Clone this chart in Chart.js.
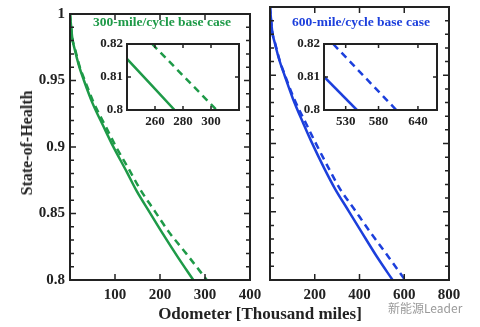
<!DOCTYPE html>
<html><head><meta charset="utf-8">
<script src="https://cdn.jsdelivr.net/npm/chart.js@4/dist/chart.umd.min.js"></script>
<style>
html,body{margin:0;padding:0;background:#fff;}
#wrap{position:relative;width:480px;height:327px;overflow:hidden;background:#fff;}
#wrap canvas{position:absolute;left:0;top:0;}
.t{position:absolute;font-family:'Liberation Serif','Times New Roman',serif;font-weight:bold;white-space:nowrap;line-height:1;}
</style></head><body>
<div id="wrap">
<canvas id="cL" width="480" height="327"></canvas>
<canvas id="cR" width="480" height="327"></canvas>
<canvas id="cIL" width="480" height="327"></canvas>
<canvas id="cIR" width="480" height="327"></canvas>
<div class="t" id="ttlL" style="left:93px;top:15px;font-size:13.5px;color:#1e9a48;">300-mile/cycle base case</div>
<div class="t" id="ttlR" style="left:292px;top:15px;font-size:13.5px;color:#1c3fdc;">600-mile/cycle base case</div>
<div class="t" id="ytitle" style="left:27px;top:143px;font-size:16px;color:#222;transform:translate(-50%,-50%) rotate(-90deg);">State-of-Health</div>
<div class="t" id="xtitle" style="left:260px;top:313px;font-size:17px;color:#222;transform:translate(-50%,-50%);">Odometer [Thousand miles]</div>
<div id="wm" style="position:absolute;left:388px;top:299px;font-family:'Noto Sans CJK SC',sans-serif;font-size:12px;color:#9a9a9a;white-space:nowrap;">新能源Leader</div>
</div>
<script>
// ---- data ----
const leftSolidMiles = [0, 5, 10, 20, 31, 50, 75, 95, 125, 148, 175, 204, 240, 274];
const leftSolidSoh   = [1, 0.982, 0.974, 0.961, 0.950, 0.933, 0.915, 0.901, 0.882, 0.867, 0.852, 0.836, 0.817, 0.800];
const leftDashMiles  = [0, 5, 11, 21, 33, 53, 80, 101, 133, 158, 188, 220, 258, 304];
const leftDashSoh    = [1, 0.982, 0.974, 0.961, 0.950, 0.933, 0.915, 0.901, 0.882, 0.867, 0.852, 0.836, 0.820, 0.800];
const rightSolidMiles = [0, 10, 21, 42, 65, 102, 148, 186, 242, 290, 346, 406, 478, 548];
const rightSolidSoh   = [1, 0.982, 0.974, 0.961, 0.950, 0.933, 0.915, 0.901, 0.882, 0.867, 0.852, 0.836, 0.817, 0.800];
const rightDashMiles  = [0, 10, 22, 43, 67, 107, 160, 202, 262, 312, 376, 444, 516, 604];
const rightDashSoh    = [1, 0.982, 0.974, 0.961, 0.950, 0.933, 0.915, 0.901, 0.882, 0.867, 0.852, 0.836, 0.820, 0.800];

const insetLeftSolidMiles = [240, 274];
const insetLeftSolidSoh   = [0.8155, 0.800];
const insetLeftDashMiles  = [258, 304];
const insetLeftDashSoh    = [0.820, 0.800];
const insetRightSolidMiles = [497, 547];
const insetRightSolidSoh   = [0.8101, 0.800];
const insetRightDashMiles  = [511, 607];
const insetRightDashSoh    = [0.820, 0.800];

// ---- ticks ----
const leftXTicks  = [100, 200, 300, 400];
const rightXTicks = [200, 400, 600, 800];
const mainYTicks  = [0.8, 0.85, 0.9, 0.95, 1];
const mainYLabels = ['0.8', '0.85', '0.9', '0.95', '1'];
const insetYTicks = [0.8, 0.81, 0.82];
const insetYLabels = ['0.8', '0.81', '0.82'];
const insetLeftXTicks  = [260, 280, 300];
const insetRightXTicks = [530, 580, 640];

const GREEN = '#1e9a48', BLUE = '#1c3fdc';
const FONT = "'Liberation Serif','Times New Roman',serif";

function pts(xs, ys){ return xs.map((x,i)=>({x:x, y:ys[i]})); }

const framePlugin = {
  id: 'frame',
  beforeDraw(chart, args, o){
    if (o.fill){
      const a = chart.chartArea, ctx = chart.ctx;
      ctx.save(); ctx.fillStyle = '#fff';
      ctx.fillRect(a.left, a.top, a.right-a.left, a.bottom-a.top); ctx.restore();
    }
  },
  afterDraw(chart, args, o){
    const ctx = chart.ctx, a = chart.chartArea, xs = chart.scales.x, ys = chart.scales.y;
    ctx.save();
    ctx.strokeStyle = '#222'; ctx.lineWidth = o.lw || 2;
    ctx.strokeRect(a.left, a.top, a.right-a.left, a.bottom-a.top);
    ctx.lineWidth = 1.5;
    ctx.beginPath();
    (o.xMajor||[]).forEach(v=>{ const p = xs.getPixelForValue(v);
      if (p <= a.left+1 || p >= a.right-1) return;
      ctx.moveTo(p, a.bottom); ctx.lineTo(p, a.bottom - o.major);
      ctx.moveTo(p, a.top); ctx.lineTo(p, a.top + o.major); });
    (o.yMajor||[]).forEach(v=>{ const p = ys.getPixelForValue(v);
      if (p <= a.top+1 || p >= a.bottom-1) return;
      ctx.moveTo(a.left, p); ctx.lineTo(a.left + o.major, p);
      ctx.moveTo(a.right, p); ctx.lineTo(a.right - o.major, p); });
    (o.yMinor||[]).forEach(v=>{ const p = ys.getPixelForValue(v);
      if (p <= a.top+1 || p >= a.bottom-1) return;
      ctx.moveTo(a.left, p); ctx.lineTo(a.left + o.minor, p);
      ctx.moveTo(a.right, p); ctx.lineTo(a.right - o.minor, p); });
    ctx.stroke();
    ctx.restore();
  }
};

function ds(data, color, dashed, w){
  return { data: data, borderColor: color, borderWidth: w, borderDash: dashed ? [7,5] : [],
           pointRadius: 0, fill: false, cubicInterpolationMode: 'monotone', tension: 0.4 };
}

function makeChart(id, o){
  return new Chart(document.getElementById(id), {
    type: 'line',
    data: { datasets: o.datasets },
    plugins: [framePlugin],
    options: {
      responsive: false, animation: false, devicePixelRatio: 1,
      layout: { padding: o.padding },
      plugins: { legend: {display:false}, tooltip: {enabled:false},
        frame: { fill: o.fill, lw: o.lw, major: o.major, minor: o.minor, xMajor: o.xTicks, yMajor: o.yTicks, yMinor: o.yMinor } },
      scales: {
        x: { type: 'linear', min: o.xMin, max: o.xMax,
             afterBuildTicks: s => { s.ticks = o.xTicks.map(v=>({value:v})); },
             afterFit: s => { s.height = o.xH; },
             grid: {display:false, drawTicks:false}, border: {display:false},
             ticks: { autoSkip:false, maxRotation:0, padding: o.xPad, color:'#222',
                      font: {family: FONT, weight:'bold', size: o.fs},
                      callback: v => String(v) } },
        y: { type: 'linear', min: o.yMin, max: o.yMax,
             afterBuildTicks: s => { s.ticks = o.yTicks.map(v=>({value:v})); },
             afterFit: s => { s.width = o.yW; },
             grid: {display:false, drawTicks:false}, border: {display:false},
             ticks: { display: o.yLabels !== null, autoSkip:false, padding: o.yPad, color:'#222',
                      font: {family: FONT, weight:'bold', size: o.fs},
                      callback: (v, i) => o.yLabels ? o.yLabels[i] : '' } }
      }
    }
  });
}

const minorY = [];
for (let k = 81; k < 100; k++) if (k % 5) minorY.push(k/100);

makeChart('cL', {
  datasets: [ ds(pts(leftSolidMiles, leftSolidSoh), GREEN, false, 2.5),
              ds(pts(leftDashMiles, leftDashSoh), GREEN, true, 2.5) ],
  padding: {left: 7, right: 230, top: 7, bottom: 17},
  xMin: 0, xMax: 400, yMin: 0.8, yMax: 1, xTicks: leftXTicks, yTicks: mainYTicks, yLabels: mainYLabels,
  yMinor: minorY, xH: 30, yW: 63, xPad: 6, yPad: 5, fs: 15, lw: 2, major: 6, minor: 4, fill: false
});
makeChart('cR', {
  datasets: [ ds(pts(rightSolidMiles, rightSolidSoh), BLUE, false, 2.5),
              ds(pts(rightDashMiles, rightDashSoh), BLUE, true, 2.5) ],
  padding: {left: 270, right: 31, top: 7, bottom: 17},
  xMin: 0, xMax: 800, yMin: 0.8, yMax: 1, xTicks: rightXTicks, yTicks: mainYTicks, yLabels: null,
  yMinor: minorY, xH: 30, yW: 0, xPad: 6, yPad: 0, fs: 15, lw: 2, major: 6, minor: 4, fill: false
});
makeChart('cIL', {
  datasets: [ ds(pts(insetLeftSolidMiles, insetLeftSolidSoh), GREEN, false, 2.5),
              ds(pts(insetLeftDashMiles, insetLeftDashSoh), GREEN, true, 2.5) ],
  padding: {left: 87, right: 241, top: 44, bottom: 195},
  xMin: 240, xMax: 320, yMin: 0.8, yMax: 0.82, xTicks: insetLeftXTicks, yTicks: insetYTicks, yLabels: insetYLabels,
  yMinor: [], xH: 22, yW: 40, xPad: 4, yPad: 4, fs: 13, lw: 2, major: 4, minor: 0, fill: true
});
makeChart('cIR', {
  datasets: [ ds(pts(insetRightSolidMiles, insetRightSolidSoh), BLUE, false, 2.5),
              ds(pts(insetRightDashMiles, insetRightDashSoh), BLUE, true, 2.5) ],
  padding: {left: 284, right: 43, top: 44, bottom: 195},
  xMin: 497, xMax: 669, yMin: 0.8, yMax: 0.82, xTicks: insetRightXTicks, yTicks: insetYTicks, yLabels: insetYLabels,
  yMinor: [], xH: 22, yW: 40, xPad: 4, yPad: 4, fs: 13, lw: 2, major: 4, minor: 0, fill: true
});
</script>
</body></html>
